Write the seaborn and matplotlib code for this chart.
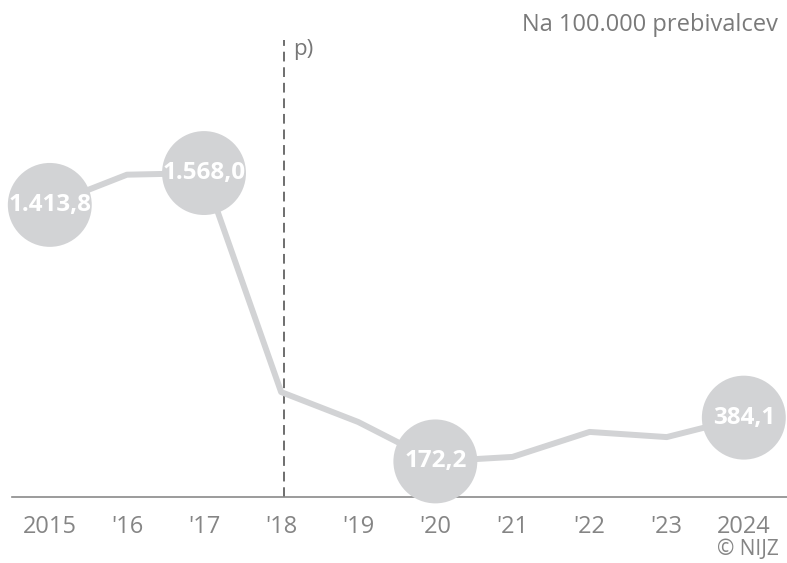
import matplotlib
matplotlib.use("Agg")
import matplotlib.pyplot as plt
import seaborn as sns
import pandas as pd

# podatki
years = ["2015", "'16", "'17", "'18", "'19", "'20", "'21", "'22", "'23", "2024"]
values = [1413.8, 1560.0, 1568.0, 508.0, 363.0, 172.2, 194.0, 315.0, 290.0, 384.1]
labeled_years = ["2015", "'17", "'20", "2024"]
label_texts = ["1.413,8", "1.568,0", "172,2", "384,1"]
provisional_from = "'18"

sns.set_style("white")
plt.rcParams['font.family'] = ['Open Sans', 'DejaVu Sans']

df = pd.DataFrame({"leto": range(len(years)), "vrednost": values})
pos = {y: i for i, y in enumerate(years)}
lab = df.loc[[pos[y] for y in labeled_years]]

fig = plt.figure(figsize=(7.87, 5.63), dpi=100)
ax = fig.add_axes([12 / 787, 66 / 563, 775 / 787, 457 / 563])

line_col = "#d2d3d5"
sns.lineplot(data=df, x="leto", y="vrednost", ax=ax, color=line_col, lw=4.3, zorder=2)
sns.scatterplot(data=lab, x="leto", y="vrednost", ax=ax, color=line_col, s=3650,
                edgecolor="none", zorder=3, clip_on=False)
for (_, r), t in zip(lab.iterrows(), label_texts):
    ax.text(r["leto"], r["vrednost"], t, ha="center", va="center", color="white",
            fontsize=17.5, fontweight="bold", zorder=4)

ax.axvline(pos[provisional_from] + 0.04, color="#6e6e6e", lw=1.4, ls=(0, (5, 3)), zorder=1)
ax.text(pos[provisional_from] + 0.15, 2165, "p)", color="#777777", fontsize=16,
        ha="left", va="center")

ax.set_xlim(-0.49, 9.56)
ax.set_ylim(0, 2212)
ax.set_xticks(range(len(years)))
ax.set_xticklabels(years)
ax.set_yticks([])
ax.set_xlabel("")
ax.set_ylabel("")
ax.tick_params(axis="x", length=0, pad=13, labelsize=17, labelcolor="#858585")
for s in ["top", "right", "left"]:
    ax.spines[s].set_visible(False)
ax.spines["bottom"].set_color("#8a8a8a")
ax.spines["bottom"].set_linewidth(1.2)
ax.patch.set_alpha(0)

fig.text(0.989, 0.955, "Na 100.000 prebivalcev", ha="right", va="center",
         color="#7a7a7a", fontsize=17)
fig.text(0.989, 0.024, "© NIJZ", ha="right", va="center", color="#858585", fontsize=15)

fig.savefig("out.png", dpi=100)
